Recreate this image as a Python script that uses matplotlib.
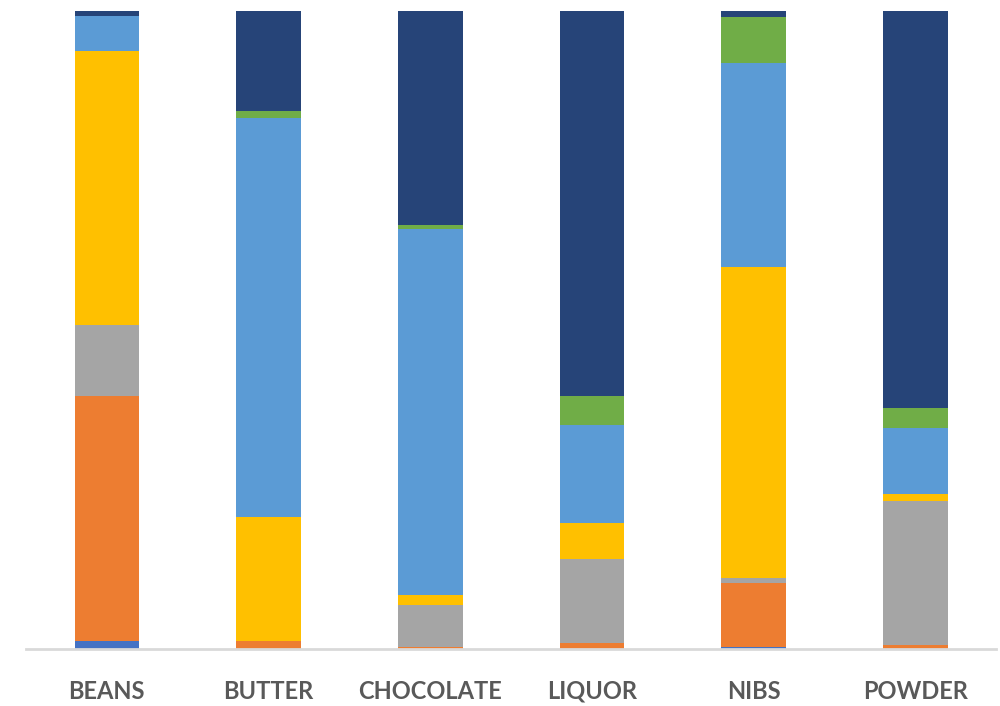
import numpy as np
import matplotlib.pyplot as plt

categories = ['BEANS', 'BUTTER', 'CHOCOLATE', 'LIQUOR', 'NIBS', 'POWDER']

# shares of each series per category, in percent (bottom to top)
s1 = [1.3, 0.0, 0.0, 0.0, 0.3, 0.0]
s2 = [38.4, 1.3, 0.3, 0.9, 10.0, 0.6]
s3 = [11.1, 0.0, 6.6, 13.2, 0.8, 22.6]
s4 = [42.9, 19.4, 1.6, 5.6, 48.7, 1.1]
s5 = [5.5, 62.5, 57.4, 15.4, 32.1, 10.3]
s6 = [0.0, 1.1, 0.5, 4.5, 7.1, 3.1]
s7 = [0.8, 15.7, 33.6, 60.4, 1.0, 62.3]

series = [s1, s2, s3, s4, s5, s6, s7]
colors = ['#4472C4', '#ED7D31', '#A5A5A5', '#FFC000', '#5B9BD5', '#70AD47', '#264478']

fig = plt.figure(figsize=(10, 7.06), dpi=100)
ax = fig.add_axes([0.026, 0.0807, 0.970, 0.9037])

x = np.arange(len(categories))
bottom = np.zeros(len(categories))
for vals, c in zip(series, colors):
    vals = np.array(vals)
    ax.bar(x, vals, 0.4, bottom=bottom, color=c, linewidth=0)
    bottom += vals

ax.set_xlim(-0.5, len(categories) - 0.5)
ax.set_ylim(0, bottom.max())
ax.set_yticks([])
ax.set_xticks(x)
ax.set_xticklabels(categories, fontsize=17, fontweight='bold', color='#595959',
                   family=['Lato', 'DejaVu Sans'])
ax.tick_params(axis='x', length=0, pad=22)
for side in ['top', 'right', 'left']:
    ax.spines[side].set_visible(False)
ax.spines['bottom'].set_color('#D9D9D9')
ax.spines['bottom'].set_linewidth(2)

fig.savefig('out.png')
